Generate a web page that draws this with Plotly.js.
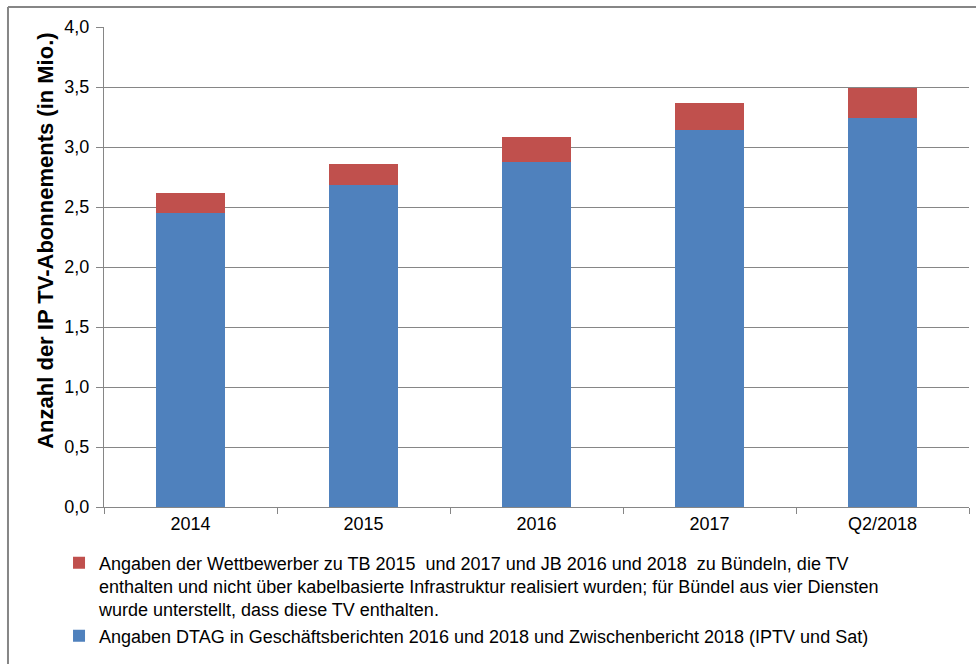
<!DOCTYPE html>
<html>
<head>
<meta charset="utf-8">
<script src="https://cdn.plot.ly/plotly-3.0.1.min.js"></script>
<style>html,body{margin:0;padding:0;background:#fff;}#chart{width:976px;height:664px;}</style>
</head>
<body>
<div id="chart"></div>
<script>
const categories = ["2014", "2015", "2016", "2017", "Q2/2018"];
const dtagValues = [2.45, 2.68, 2.875, 3.14, 3.24];
const competitorValues = [0.17, 0.175, 0.21, 0.23, 0.25];
const dtagName = "Angaben DTAG in Geschäftsberichten 2016 und 2018 und Zwischenbericht 2018 (IPTV und Sat)";
const competitorName = "Angaben der Wettbewerber zu TB 2015  und 2017 und JB 2016 und 2018  zu Bündeln, die TV<br>enthalten und nicht über kabelbasierte Infrastruktur realisiert wurden; für Bündel aus vier Diensten<br>wurde unterstellt, dass diese TV enthalten.";
const yTitle = "<b>Anzahl der IP TV-Abonnements (in Mio.)</b>";

const FONT = "Liberation Sans, Arial, sans-serif";
const traces = [
  {type: "bar", x: categories, y: dtagValues, name: dtagName, legendgroup: "a",
   marker: {color: "#4F81BD"}, hoverinfo: "y"},
  {type: "bar", x: categories, y: competitorValues, name: competitorName, legendgroup: "b",
   marker: {color: "#C0504D"}, hoverinfo: "y"}
];
const layout = {
  width: 976, height: 664,
  margin: {l: 104, r: 7, t: 27, b: 157, autoexpand: false},
  barmode: "stack",
  bargap: 0.6,
  separators: ",.",
  paper_bgcolor: "#fff", plot_bgcolor: "#fff",
  font: {family: FONT, size: 18, color: "#000"},
  xaxis: {
    type: "category", tickson: "boundaries", ticks: "outside", ticklen: 6, tickcolor: "#868686",
    showline: true, linecolor: "#868686", linewidth: 1, showgrid: false,
    tickfont: {size: 18, color: "#000"}
  },
  yaxis: {
    range: [0, 4], dtick: 0.5, tickformat: ".1f", ticks: "outside", ticklen: 7, tickcolor: "#868686",
    showline: true, linecolor: "#868686", linewidth: 1, showgrid: true, gridcolor: "#868686", gridwidth: 1,
    zeroline: false, tickfont: {size: 18, color: "#000"}, ticklabelstandoff: 3
  },
  annotations: [
    {text: yTitle, xref: "paper", yref: "paper", x: -0.068, y: 0.555, xanchor: "center", yanchor: "middle",
     textangle: -90, showarrow: false, font: {size: 22, color: "#000"}}
  ],
  showlegend: true,
  legend: {
    orientation: "v", traceorder: "reversed", x: -0.052, xanchor: "left", y: -0.078, yanchor: "top",
    valign: "top", font: {size: 18, color: "#000"}, tracegroupgap: 5, bgcolor: "rgba(0,0,0,0)"
  },
  shapes: [
    {type: "line", xref: "paper", yref: "paper", x0: -0.111, x1: -0.111, y0: 1.0417, y1: -0.4, line: {color: "#868686", width: 2}},
    {type: "line", xref: "paper", yref: "paper", x0: -0.111, x1: 1.02, y0: 1.0417, y1: 1.0417, line: {color: "#868686", width: 2}}
  ]
};
Plotly.newPlot("chart", traces, layout, {displayModeBar: false, staticPlot: true});
</script>
</body>
</html>
